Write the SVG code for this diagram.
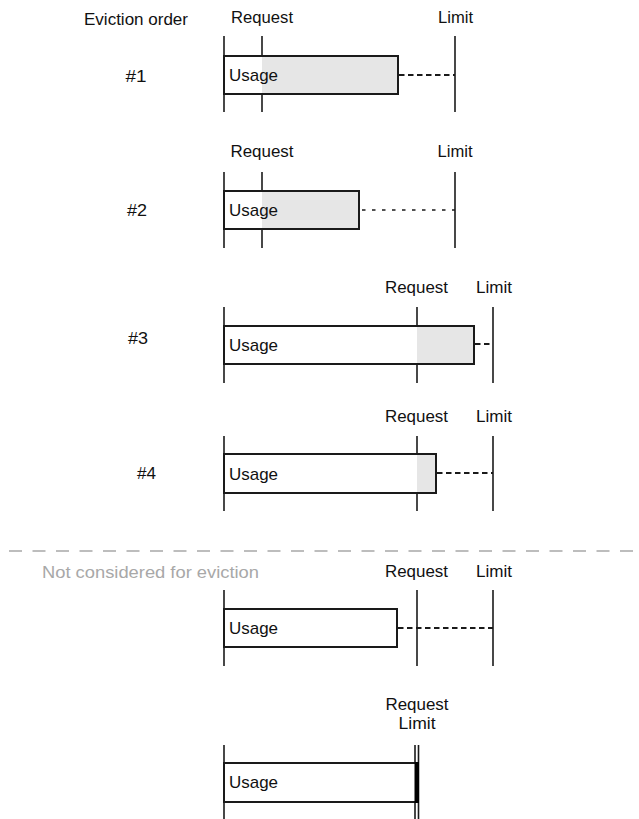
<svg xmlns="http://www.w3.org/2000/svg" width="639" height="819" viewBox="0 0 639 819">
<style>
text{font-family:"Liberation Sans",Arial,sans-serif;fill:#111;}
.lbl{font-size:16px;text-anchor:middle;}
.use{font-size:17px;}
.vl{stroke:#1a1a1a;stroke-width:1.6;fill:none;}
.box{stroke:#1a1a1a;stroke-width:2;fill:none;}
.gray{fill:#e6e6e6;stroke:none;}
.white{fill:#fff;stroke:none;}
.dash1{stroke:#1a1a1a;stroke-width:1.8;stroke-dasharray:5.5 3.5;fill:none;}
.dash2{stroke:#1a1a1a;stroke-width:1.5;stroke-dasharray:3.5 6.5;fill:none;}
.sep{stroke:#bdbdbd;stroke-width:2;stroke-dasharray:13 10.5;fill:none;}
</style>
<rect width="639" height="819" fill="#fff"/>
<text x="136" y="25" class="lbl" textLength="104" lengthAdjust="spacingAndGlyphs">Eviction order</text>

<g id="row1">
<text x="262" y="23" class="lbl" textLength="62" lengthAdjust="spacingAndGlyphs">Request</text>
<text x="455.5" y="23" class="lbl" textLength="35" lengthAdjust="spacingAndGlyphs">Limit</text>
<text x="136" y="82" class="lbl" textLength="21" lengthAdjust="spacingAndGlyphs">#1</text>
<line class="dash1" x1="399" y1="75" x2="455" y2="75"/>
<line class="vl" x1="224" y1="36" x2="224" y2="112"/>
<line class="vl" x1="262" y1="36" x2="262" y2="112"/>
<line class="vl" x1="455" y1="36" x2="455" y2="112"/>
<rect class="white" x="224" y="56" width="38" height="38"/>
<rect class="gray" x="262" y="56" width="136" height="38"/>
<rect class="box" x="224" y="56" width="174" height="38"/>
<text x="229" y="81" class="use" textLength="49" lengthAdjust="spacingAndGlyphs">Usage</text>
</g>

<g id="row2">
<text x="262" y="157" class="lbl" textLength="63" lengthAdjust="spacingAndGlyphs">Request</text>
<text x="455" y="157" class="lbl" textLength="35" lengthAdjust="spacingAndGlyphs">Limit</text>
<text x="137" y="216" class="lbl" textLength="20" lengthAdjust="spacingAndGlyphs">#2</text>
<line class="dash2" x1="362" y1="210" x2="455" y2="210"/>
<line class="vl" x1="224" y1="172" x2="224" y2="248"/>
<line class="vl" x1="262" y1="172" x2="262" y2="248"/>
<line class="vl" x1="455" y1="172" x2="455" y2="248"/>
<rect class="white" x="224" y="191" width="38" height="38"/>
<rect class="gray" x="262" y="191" width="97" height="38"/>
<rect class="box" x="224" y="191" width="135" height="38"/>
<text x="229" y="216" class="use" textLength="49" lengthAdjust="spacingAndGlyphs">Usage</text>
</g>

<g id="row3">
<text x="416.5" y="293" class="lbl" textLength="63" lengthAdjust="spacingAndGlyphs">Request</text>
<text x="494" y="293" class="lbl" textLength="36" lengthAdjust="spacingAndGlyphs">Limit</text>
<text x="138" y="344" class="lbl" textLength="20" lengthAdjust="spacingAndGlyphs">#3</text>
<line class="dash1" x1="475" y1="344" x2="493" y2="344"/>
<line class="vl" x1="224" y1="307" x2="224" y2="383"/>
<line class="vl" x1="417" y1="307" x2="417" y2="383"/>
<line class="vl" x1="493" y1="307" x2="493" y2="383"/>
<rect class="white" x="224" y="326" width="193" height="38"/>
<rect class="gray" x="417" y="326" width="57" height="38"/>
<rect class="box" x="224" y="326" width="250" height="38"/>
<text x="229" y="351" class="use" textLength="49" lengthAdjust="spacingAndGlyphs">Usage</text>
</g>

<g id="row4">
<text x="416.5" y="422" class="lbl" textLength="63" lengthAdjust="spacingAndGlyphs">Request</text>
<text x="494" y="422" class="lbl" textLength="36" lengthAdjust="spacingAndGlyphs">Limit</text>
<text x="146.5" y="479" class="lbl" textLength="19" lengthAdjust="spacingAndGlyphs">#4</text>
<line class="dash1" x1="437" y1="473" x2="493" y2="473"/>
<line class="vl" x1="224" y1="436" x2="224" y2="511"/>
<line class="vl" x1="417" y1="436" x2="417" y2="511"/>
<line class="vl" x1="493" y1="436" x2="493" y2="511"/>
<rect class="white" x="224" y="454" width="193" height="39"/>
<rect class="gray" x="417" y="454" width="19" height="39"/>
<rect class="box" x="224" y="454" width="212" height="39"/>
<text x="229" y="480" class="use" textLength="49" lengthAdjust="spacingAndGlyphs">Usage</text>
</g>

<g id="separator">
<line class="sep" x1="9" y1="551" x2="639" y2="551"/>
<text x="42" y="578" style="font-size:16px;fill:#a8a8a8" textLength="217" lengthAdjust="spacingAndGlyphs">Not considered for eviction</text>
</g>

<g id="row5">
<text x="416.5" y="577" class="lbl" textLength="63" lengthAdjust="spacingAndGlyphs">Request</text>
<text x="494" y="577" class="lbl" textLength="36" lengthAdjust="spacingAndGlyphs">Limit</text>
<line class="dash1" x1="398" y1="628" x2="493" y2="628"/>
<line class="vl" x1="224" y1="590" x2="224" y2="666"/>
<line class="vl" x1="417" y1="590" x2="417" y2="666"/>
<line class="vl" x1="493" y1="590" x2="493" y2="666"/>
<rect class="white" x="224" y="609" width="173" height="38"/>
<rect class="box" x="224" y="609" width="173" height="38"/>
<text x="229" y="634" class="use" textLength="49" lengthAdjust="spacingAndGlyphs">Usage</text>
</g>

<g id="row6">
<text x="417" y="710" class="lbl" textLength="63" lengthAdjust="spacingAndGlyphs">Request</text>
<text x="417" y="729" class="lbl" textLength="37" lengthAdjust="spacingAndGlyphs">Limit</text>
<line class="vl" x1="224" y1="745" x2="224" y2="819"/>
<line class="vl" x1="415" y1="745" x2="415" y2="819"/>
<line class="vl" x1="418.5" y1="745" x2="418.5" y2="819"/>
<rect class="white" x="224" y="763" width="191" height="39"/>
<rect class="box" x="224" y="763" width="192" height="39"/>
<rect x="414.5" y="762" width="4.5" height="41" fill="#000"/>
<text x="229" y="788" class="use" textLength="49" lengthAdjust="spacingAndGlyphs">Usage</text>
</g>
</svg>
